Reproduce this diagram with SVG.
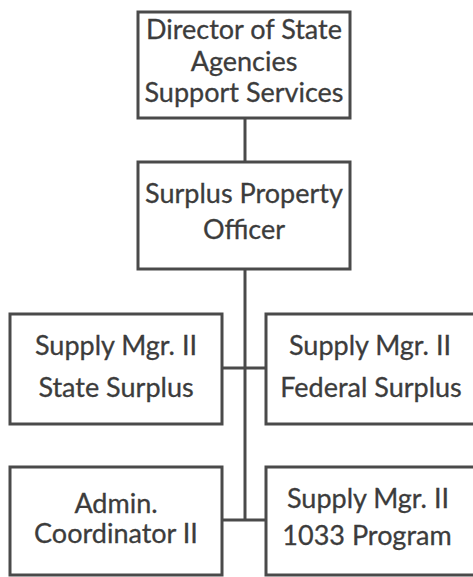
<svg xmlns="http://www.w3.org/2000/svg" width="473" height="577" viewBox="0 0 473 577">
<style>
.box{fill:#fff;stroke:#4a4a4a;stroke-width:3}
.ln{stroke:#4a4a4a;stroke-width:3;fill:none}
text{font-family:Lato,"Open Sans","Liberation Sans",sans-serif;font-size:27px;fill:#3c3c3c;stroke:#3c3c3c;stroke-width:0.3;text-anchor:middle}
</style>
<rect width="473" height="577" fill="#fff"/>
<g id="connectors">
<line class="ln" x1="245" y1="118" x2="245" y2="162"/>
<line class="ln" x1="245" y1="269" x2="245" y2="520"/>
<line class="ln" x1="222" y1="368" x2="266" y2="368"/>
<line class="ln" x1="222" y1="520" x2="266" y2="520"/>
</g>
<g id="director">
<rect class="box" x="138" y="12" width="212" height="106"/>
<text x="244" y="39">Director of State</text>
<text x="244" y="71">Agencies</text>
<text x="244" y="102">Support Services</text>
</g>
<g id="officer">
<rect class="box" x="138" y="162" width="212" height="107"/>
<text x="244" y="203">Surplus Property</text>
<text x="244" y="239">Officer</text>
</g>
<g id="state">
<rect class="box" x="10" y="314" width="212" height="110"/>
<text x="116" y="355">Supply Mgr. II</text>
<text x="116" y="397">State Surplus</text>
</g>
<g id="federal">
<rect class="box" x="266" y="314" width="212" height="110"/>
<text x="370" y="355">Supply Mgr. II</text>
<text x="371" y="397">Federal Surplus</text>
</g>
<g id="admin">
<rect class="box" x="10" y="467" width="212" height="108"/>
<text x="116" y="513">Admin.</text>
<text x="116" y="543">Coordinator II</text>
</g>
<g id="program">
<rect class="box" x="266" y="467" width="212" height="108"/>
<text x="368" y="508">Supply Mgr. II</text>
<text x="367" y="545">1033 Program</text>
</g>
</svg>
